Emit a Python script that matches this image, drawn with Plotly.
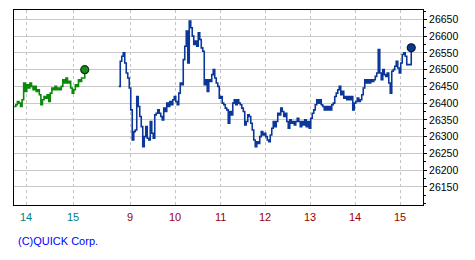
import plotly.graph_objects as go

# ---- data ----
# previous day (13:45 - 15:15, every 2 minutes)
prev_start_min = 13 * 60 + 45
prev_values = [
    26390, 26395, 26405, 26400, 26390, 26410, 26460, 26435, 26455, 26445,
    26460, 26450, 26440, 26450, 26435, 26440, 26425, 26395, 26410, 26420,
    26415, 26425, 26405, 26430, 26445, 26440, 26450, 26440, 26445, 26440,
    26450, 26470, 26460, 26475, 26460, 26465, 26445, 26430, 26440, 26455,
    26450, 26470, 26465, 26475, 26475, 26500,
]
# today (8:45 - 15:15, every 2 minutes)
today_start_min = 8 * 60 + 45
today_values = [
    26450, 26525, 26540, 26550, 26520, 26490, 26475, 26445, 26380, 26290,
    26315, 26320, 26420, 26390, 26360, 26330, 26270, 26300, 26330, 26295,
    26290, 26345, 26310, 26295, 26365, 26370, 26380, 26370, 26360, 26350,
    26385, 26375, 26400, 26390, 26405, 26395, 26410, 26420, 26405, 26395,
    26430, 26460, 26455, 26530, 26570, 26615, 26520, 26645, 26625, 26600,
    26575, 26585, 26570, 26610, 26590, 26565, 26555, 26455, 26470, 26435,
    26470, 26465, 26485, 26500, 26475, 26460, 26450, 26415, 26420, 26400,
    26395, 26385, 26380, 26340, 26375, 26365, 26400, 26410, 26395, 26410,
    26400, 26395, 26385, 26375, 26335, 26345, 26365, 26360, 26340, 26320,
    26290, 26270, 26285, 26280, 26300, 26315, 26305, 26310, 26300, 26290,
    26285, 26305, 26325, 26345, 26330, 26345, 26370, 26365, 26385, 26375,
    26360, 26370, 26345, 26325, 26350, 26340, 26345, 26335, 26345, 26355,
    26345, 26330, 26345, 26335, 26350, 26330, 26345, 26325, 26355, 26370,
    26380, 26395, 26410, 26400, 26410, 26395, 26390, 26380, 26390, 26380,
    26390, 26380, 26395, 26400, 26420, 26430, 26440, 26450, 26425, 26435,
    26415, 26420, 26410, 26420, 26410, 26420, 26380, 26400, 26405, 26415,
    26405, 26410, 26425, 26445, 26470, 26460, 26470, 26460, 26470, 26465,
    26470, 26480, 26490, 26560, 26490, 26470, 26500, 26485, 26480, 26490,
    26460, 26430, 26495, 26500, 26510, 26525, 26505, 26490, 26520, 26545,
    26550, 26540, 26515, 26515, 26515, 26565,
]
step_min = 2

prev_tick_hours = [14, 15]
today_tick_hours = [9, 10, 11, 12, 13, 14, 15]
y_ticks = [26150, 26200, 26250, 26300, 26350, 26400, 26450, 26500, 26550, 26600, 26650]
copyright_text = "(C)QUICK Corp."

# ---- time scales (two sessions share one horizontal axis) ----
def prev_pos(m):
    return 26 + (m - 14 * 60) * 47 / 60

def today_pos(m):
    return 130 + (m - 9 * 60) * 45 / 60

prev_x = [prev_pos(prev_start_min + step_min * i) for i in range(len(prev_values))]
today_x = [today_pos(today_start_min + step_min * i) for i in range(len(today_values))]
prev_tick_x = [prev_pos(h * 60) for h in prev_tick_hours]
today_tick_x = [today_pos(h * 60) for h in today_tick_hours]

GREEN = "#0a8a0a"
BLUE = "#0a3799"

fig = go.Figure()
fig.add_trace(go.Scatter(x=prev_x, y=prev_values, mode="lines", line=dict(color=GREEN, width=1.6, shape="hv"),
                         hoverinfo="skip"))
fig.add_trace(go.Scatter(x=[prev_x[-1]], y=[prev_values[-1]], mode="markers",
                         marker=dict(size=8, color="#1a8a1a", line=dict(color="#0a3a0a", width=1.2)), hoverinfo="skip"))
fig.add_trace(go.Scatter(x=today_x, y=today_values, mode="lines", line=dict(color=BLUE, width=1.6, shape="hv"),
                         hoverinfo="skip"))
fig.add_trace(go.Scatter(x=[today_x[-1]], y=[today_values[-1]], mode="markers",
                         marker=dict(size=8, color="#0a3a8a", line=dict(color="#0a1a40", width=1.2)), hoverinfo="skip"))

font = "Liberation Sans, Arial, sans-serif"
for x, h in zip(prev_tick_x, prev_tick_hours):
    fig.add_annotation(x=x, y=-0.062, xref="x", yref="paper", text=str(h), showarrow=False,
                       font=dict(family=font, size=11, color="#008080"), xanchor="center", yanchor="middle")
for x, h in zip(today_tick_x, today_tick_hours):
    fig.add_annotation(x=x, y=-0.062, xref="x", yref="paper", text=str(h), showarrow=False,
                       font=dict(family=font, size=11, color="#9a0000"), xanchor="center", yanchor="middle")
fig.add_annotation(x=0.006, y=-0.185, xref="paper", yref="paper", text=copyright_text, showarrow=False,
                   font=dict(family=font, size=11, color="#0000ff"), xanchor="left", yanchor="middle")

fig.update_layout(
    width=475, height=260,
    margin=dict(l=14, r=52, t=10, b=55),
    paper_bgcolor="white", plot_bgcolor="white",
    showlegend=False,
    xaxis=dict(range=[14, 423], tickvals=prev_tick_x + today_tick_x, showticklabels=False,
               showgrid=True, gridcolor="#c4c4c4", griddash="3px,3px", gridwidth=1,
               showline=True, linecolor="black", linewidth=1, mirror=True, zeroline=False, ticks=""),
    yaxis=dict(range=[26096, 26678], side="right", tickvals=y_ticks, ticktext=[str(v) for v in y_ticks],
               showgrid=True, gridcolor="#c8c8c8", gridwidth=1,
               showline=True, linecolor="black", linewidth=1, mirror=True, zeroline=False,
               ticks="outside", ticklen=3, tickcolor="black", tickwidth=1,
               minor=dict(dtick=25, tick0=26100, ticks="outside", ticklen=2, tickcolor="black", showgrid=False),
               tickfont=dict(family=font, size=10.5, color="black")),
)

fig.write_html("out.html")
